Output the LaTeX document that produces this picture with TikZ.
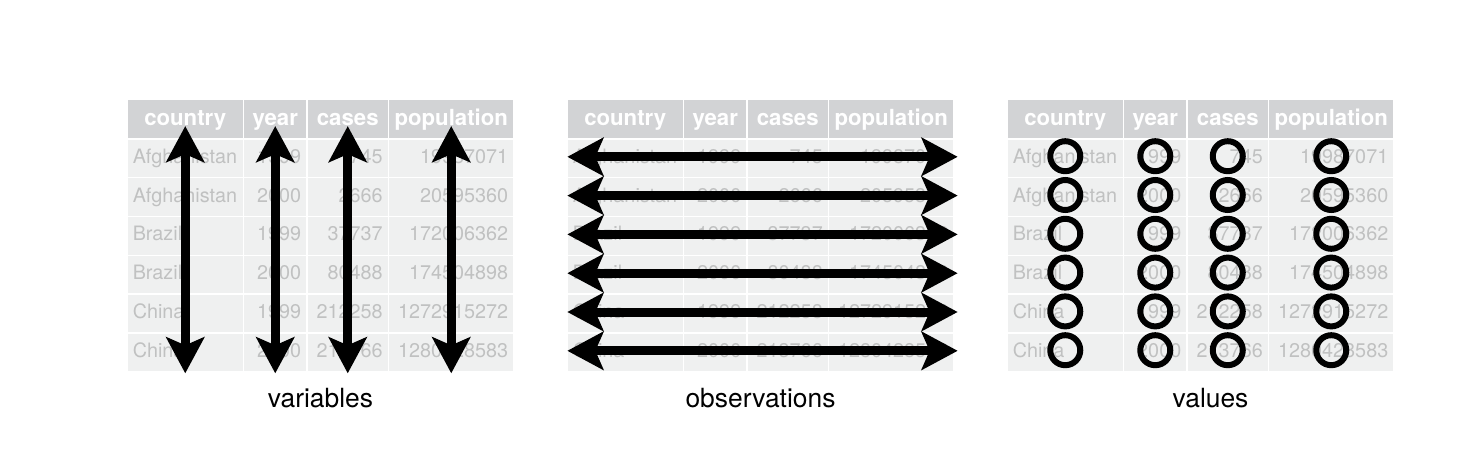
\documentclass[tikz,border=0pt]{standalone}
\usepackage{fontspec}
\setmainfont{TeX Gyre Heros}
\usepackage{xcolor}
\usetikzlibrary{calc, matrix, positioning, arrows.meta}

\definecolor{headgray}{RGB}{210,211,213}
\definecolor{cellgray}{RGB}{239,240,240}
\definecolor{textgray}{RGB}{192,193,193}

\begin{document}
\begin{tikzpicture}[x=0.5pt,y=-0.5pt,
  cell/.style={fill=cellgray,text=textgray,inner xsep=2.5pt,inner ysep=0pt,minimum height=18.7pt,text height=7.1pt,text depth=2pt,font=\fontsize{9.9}{11}\selectfont},
  headcell/.style={fill=headgray,text=white,align=center,minimum height=19pt,text height=8.2pt,text depth=2.3pt,font=\fontsize{11.1}{13}\selectfont\bfseries},
  tidy/.style={matrix of nodes,ampersand replacement=\&,inner sep=0pt,row sep=0.7pt,column sep=0.75pt,nodes={cell},
    column 1/.style={nodes={text width=52.5pt,align=left}},
    column 2/.style={nodes={text width=26pt,align=right}},
    column 3/.style={nodes={text width=35pt,align=right}},
    column 4/.style={nodes={text width=57pt,align=right}},
    row 1/.style={nodes={headcell}}},
  twoway/.style={line width=4.5pt,{Stealth[length=18pt,width=19pt,inset=4pt]}-{Stealth[length=18pt,width=19pt,inset=4pt]}},
  ring/.style={circle,draw,line width=3pt,minimum size=15pt,inner sep=0pt},
  caption/.style={inner sep=0pt,font=\fontsize{13.2}{15}\selectfont}]
\useasboundingbox (0,0) rectangle (1470,466);

% the same table three times
\foreach \tbl/\xc/\capx/\lbl in {vars/320.5/0/variables, obs/760.5/0/observations, vals/1200.5/5/values}{
\matrix[tidy] (\tbl) at (\xc,235.5) {
country \& year \& cases \& population \\
Afghanistan \& 1999 \& 745 \& 19987071 \\
Afghanistan \& 2000 \& 2666 \& 20595360 \\
Brazil \& 1999 \& 37737 \& 172006362 \\
Brazil \& 2000 \& 80488 \& 174504898 \\
China \& 1999 \& 212258 \& 1272915272 \\
China \& 2000 \& 213766 \& 1280428583 \\
};
\node[caption,below=8.5pt of \tbl,xshift=\capx pt] (\tbl-cap) {\lbl};
}

% variables: one arrow per column
\foreach \c in {1,...,4}
  \draw[twoway] ([yshift=-3.5pt]vars-1-\c.center) -- ([yshift=-1pt]vars-1-\c |- vars.south);

% observations: one arrow per row
\foreach \r in {2,...,7}
  \draw[twoway] ([yshift=0.7pt]obs-\r-1.west) -- ([xshift=2pt,yshift=0.7pt]obs-\r-4.east);

% values: one ring per cell
\foreach \r in {2,...,7}
  \foreach \c in {1,...,4}
    \node[ring] (ring-\r-\c) at ([yshift=1pt]vals-\r-\c.center) {};
\end{tikzpicture}
\end{document}
